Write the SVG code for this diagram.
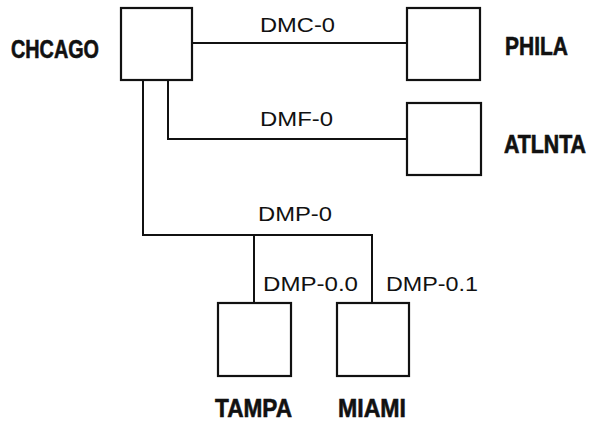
<svg xmlns="http://www.w3.org/2000/svg" width="594" height="423" viewBox="0 0 594 423">
<style>
.box{fill:#fff;stroke:#111;stroke-width:2.2}
.ln{fill:none;stroke:#111;stroke-width:2}
.nm{font-family:"Liberation Sans",Arial,sans-serif;font-weight:bold;font-size:26px;fill:#111;stroke:#111;stroke-width:0.6}
.lb{font-family:"Liberation Sans",Arial,sans-serif;font-size:21px;fill:#111}
</style>
<rect width="594" height="423" fill="#fff"/>
<g id="connectors">
<path class="ln" d="M192 43H407"/>
<path class="ln" d="M168 80V139H407"/>
<path class="ln" d="M143 80V235H372V303"/>
<path class="ln" d="M254 235V303"/>
<text class="lb" x="260" y="32" textLength="75" lengthAdjust="spacingAndGlyphs">DMC-0</text>
<text class="lb" x="260" y="126" textLength="73" lengthAdjust="spacingAndGlyphs">DMF-0</text>
<text class="lb" x="258" y="221" textLength="74" lengthAdjust="spacingAndGlyphs">DMP-0</text>
<text class="lb" x="263" y="291" textLength="95" lengthAdjust="spacingAndGlyphs">DMP-0.0</text>
<text class="lb" x="386" y="291" textLength="92" lengthAdjust="spacingAndGlyphs">DMP-0.1</text>
</g>
<g id="chcago">
<rect class="box" x="121" y="8" width="71" height="72"/>
<text class="nm" x="11" y="58" textLength="88" lengthAdjust="spacingAndGlyphs">CHCAGO</text>
</g>
<g id="phila">
<rect class="box" x="407" y="8" width="73" height="72"/>
<text class="nm" x="505" y="55" textLength="63" lengthAdjust="spacingAndGlyphs">PHILA</text>
</g>
<g id="atlnta">
<rect class="box" x="407" y="103" width="74" height="72"/>
<text class="nm" style="font-size:22px" transform="translate(504 153) scale(1 1.18)" x="0" y="0" textLength="82" lengthAdjust="spacingAndGlyphs">ATLNTA</text>
</g>
<g id="tampa">
<rect class="box" x="218" y="303" width="73" height="73"/>
<text class="nm" x="215" y="417" textLength="77" lengthAdjust="spacingAndGlyphs">TAMPA</text>
</g>
<g id="miami">
<rect class="box" x="337" y="303" width="72" height="73"/>
<text class="nm" x="338" y="417" textLength="68" lengthAdjust="spacingAndGlyphs">MIAMI</text>
</g>
</svg>
